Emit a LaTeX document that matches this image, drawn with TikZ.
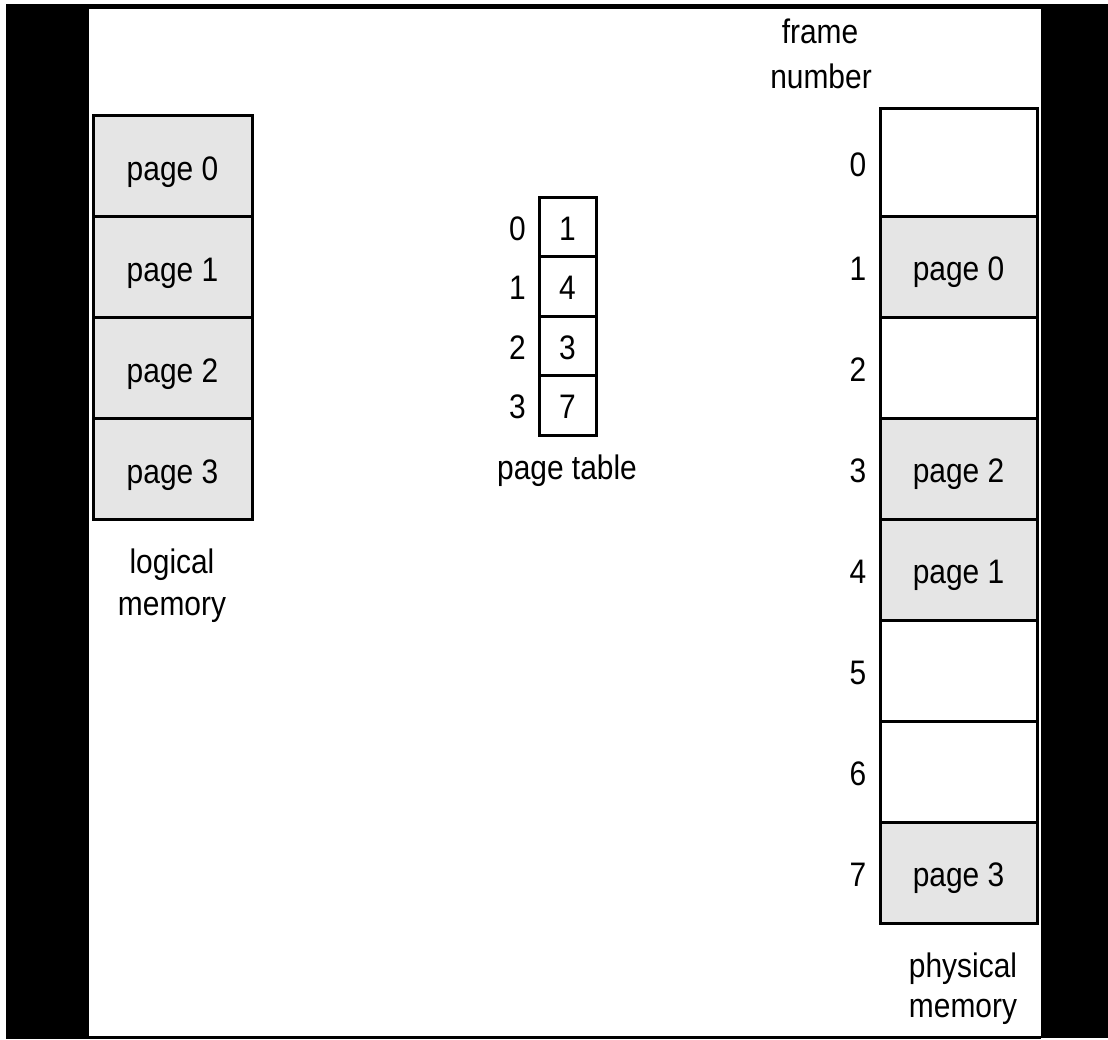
\documentclass[tikz,border=0pt]{standalone}
\usepackage{fontspec}
\setmainfont[FakeStretch=0.88]{Liberation Sans}
\begin{document}
\begin{tikzpicture}[x=1pt,y=-1pt,
  every node/.style={font=\fontsize{34}{40}\selectfont, inner sep=0pt},
  cell/.style={draw=black, line width=3pt, minimum width=#1, inner sep=0pt, outer sep=0pt},
  used/.style={fill=black!10},
  free/.style={fill=white},
  lbl/.style={anchor=base},
  bar/.style={fill=black, draw=none}]
\useasboundingbox (0,0) rectangle (1108,1039);
% frame around the drawing area
\fill[white] (0,0) rectangle (1108,1039);
\path[bar] (6,4) rectangle (1108,9);
\path[bar] (6,4) rectangle (89,1039);
\path[bar] (1041,4) rectangle (1108,1038);
\path[bar] (89,1036) rectangle (1041,1039);

% logical memory: four pages
\foreach \i/\t in {0/115,1/216,2/317,3/418}{
  \pgfmathsetmacro{\b}{\t+101}
  \path[cell=159pt, used] (93,\t) rectangle (252,\b);
  \node[lbl] (lp\i) at (172.5,{\t+65}) {page \i};
}
\draw[line width=3pt] (93,115) rectangle (252,519);
\node[lbl] (lmA) at (172,573) {logical};
\node[lbl] (lmB) at (172,615) {memory};

% page table
\foreach \i/\f in {0/1,1/4,2/3,3/7}{
  \pgfmathsetmacro{\t}{197+59.5*\i}
  \node[cell=57pt, minimum height=59.5pt, anchor=north west] (pt\i) at (539,\t) {};
  \node[lbl] (ptv\i) at ([yshift=-13.5pt]pt\i.center) {\f};
  \node[lbl] (pti\i) at ([xshift=-50pt, yshift=-13.5pt]pt\i.center) {\i};
}
\node[lbl] (ptlabel) at (567,479) {page table};

% physical memory: eight frames
\node[cell=157pt, minimum height=108pt, anchor=north west, free] (fr0) at (880,108) {};
\foreach \i/\s in {1/used,2/free,3/used,4/used,5/free,6/free,7/used}{
  \pgfmathsetmacro{\t}{216+101*(\i-1)}
  \node[cell=157pt, minimum height=101pt, anchor=north west, \s] (fr\i) at (880,\t) {};
}
\foreach \i/\p in {1/0,3/2,4/1,7/3}{
  \node[lbl] (fp\i) at ([yshift=-14pt]fr\i.center) {page \p};
}
\foreach \i in {0,...,7}{
  \node[lbl] (fn\i) at ([yshift=-14pt]fr\i.center -| 858,0) {\i};
}
\node[lbl] (fnA) at (820,43) {frame};
\node[lbl] (fnB) at (821,88) {number};
\node[lbl] (pmA) at (963,977) {physical};
\node[lbl] (pmB) at (963,1017) {memory};
\end{tikzpicture}
\end{document}
